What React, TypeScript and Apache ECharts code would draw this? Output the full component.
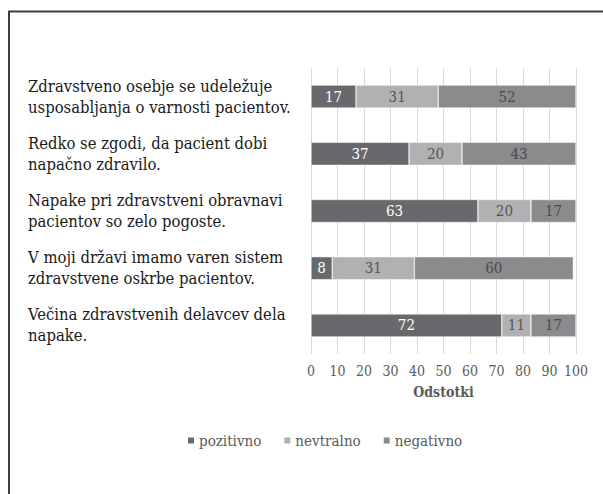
import React, { useEffect, useRef } from "react";
import * as echarts from "echarts";

const categories = [
  "Zdravstveno osebje se udeležuje\nusposabljanja o varnosti pacientov.",
  "Redko se zgodi, da pacient dobi\nnapačno zdravilo.",
  "Napake pri zdravstveni obravnavi\npacientov so zelo pogoste.",
  "V moji državi imamo varen sistem\nzdravstvene oskrbe pacientov.",
  "Večina zdravstvenih delavcev dela\nnapake.",
];
const pozitivno = [17, 37, 63, 8, 72];
const nevtralno = [31, 20, 20, 31, 11];
const negativno = [52, 43, 17, 60, 17];
const seriesNames = ["pozitivno", "nevtralno", "negativno"];
const axisTitle = "Odstotki";

const FONT = "DejaVu Serif Condensed, DejaVu Serif, serif";

export default function App() {
  const ref = useRef<HTMLDivElement>(null);
  useEffect(() => {
    if (!ref.current) return;
    const chart = echarts.init(ref.current, undefined, { renderer: "svg" });
    const colors = ["#69696d", "#b1b1b4", "#8b8b8d"];
    const labelColors = ["#ffffff", "#555555", "#4a4a4a"];
    const datas = [pozitivno, nevtralno, negativno];
    chart.setOption({
      animation: false,
      textStyle: { fontFamily: FONT },
      grid: { left: 311, right: 27, top: 68, bottom: 140, containLabel: false },
      xAxis: {
        type: "value",
        min: 0,
        max: 100,
        interval: 10,
        name: axisTitle,
        nameLocation: "middle",
        nameGap: 31,
        nameTextStyle: { fontFamily: FONT, fontSize: 14, fontWeight: "bold", color: "#595959" },
        axisLine: { show: false },
        axisTick: { show: false },
        axisLabel: { fontFamily: FONT, fontSize: 14, color: "#595959", margin: 10 },
        splitLine: { show: true, lineStyle: { color: "#d9d9d9", width: 1 } },
      },
      yAxis: {
        type: "category",
        inverse: true,
        data: categories,
        axisLine: { show: false },
        axisTick: { show: false },
        axisLabel: {
          fontFamily: FONT,
          fontSize: 16.5,
          color: "#1a1a1a",
          align: "left",
          margin: 283,
          lineHeight: 21,
        },
      },
      legend: {
        left: 181,
        top: 428,
        itemWidth: 8,
        itemHeight: 8,
        itemGap: 21,
        icon: "rect",
        textStyle: { fontFamily: FONT, fontSize: 15, color: "#595959", padding: [0, 0, 0, -1] },
        data: seriesNames,
      },
      series: seriesNames.map((n, i) => ({
        name: n,
        type: "bar",
        stack: "total",
        barWidth: 23,
        data: datas[i],
        itemStyle: { color: colors[i], borderColor: "#ffffff", borderWidth: 0.5 },
        label: {
          show: true,
          position: "inside",
          fontFamily: FONT,
          fontSize: 15,
          color: labelColors[i],
        },
      })),
      graphic: [
        {
          type: "line",
          shape: { x1: 8, y1: 11.5, x2: 603, y2: 11.5 },
          style: { stroke: "#3c3c3c", lineWidth: 2 },
        },
        {
          type: "line",
          shape: { x1: 9, y1: 11, x2: 9, y2: 494 },
          style: { stroke: "#3c3c3c", lineWidth: 2 },
        },
      ],
    });
    return () => chart.dispose();
  }, []);
  return (
    <div
      ref={ref}
      style={{ position: "fixed", left: 0, top: 0, width: 603, height: 494, background: "#fff" }}
    />
  );
}
